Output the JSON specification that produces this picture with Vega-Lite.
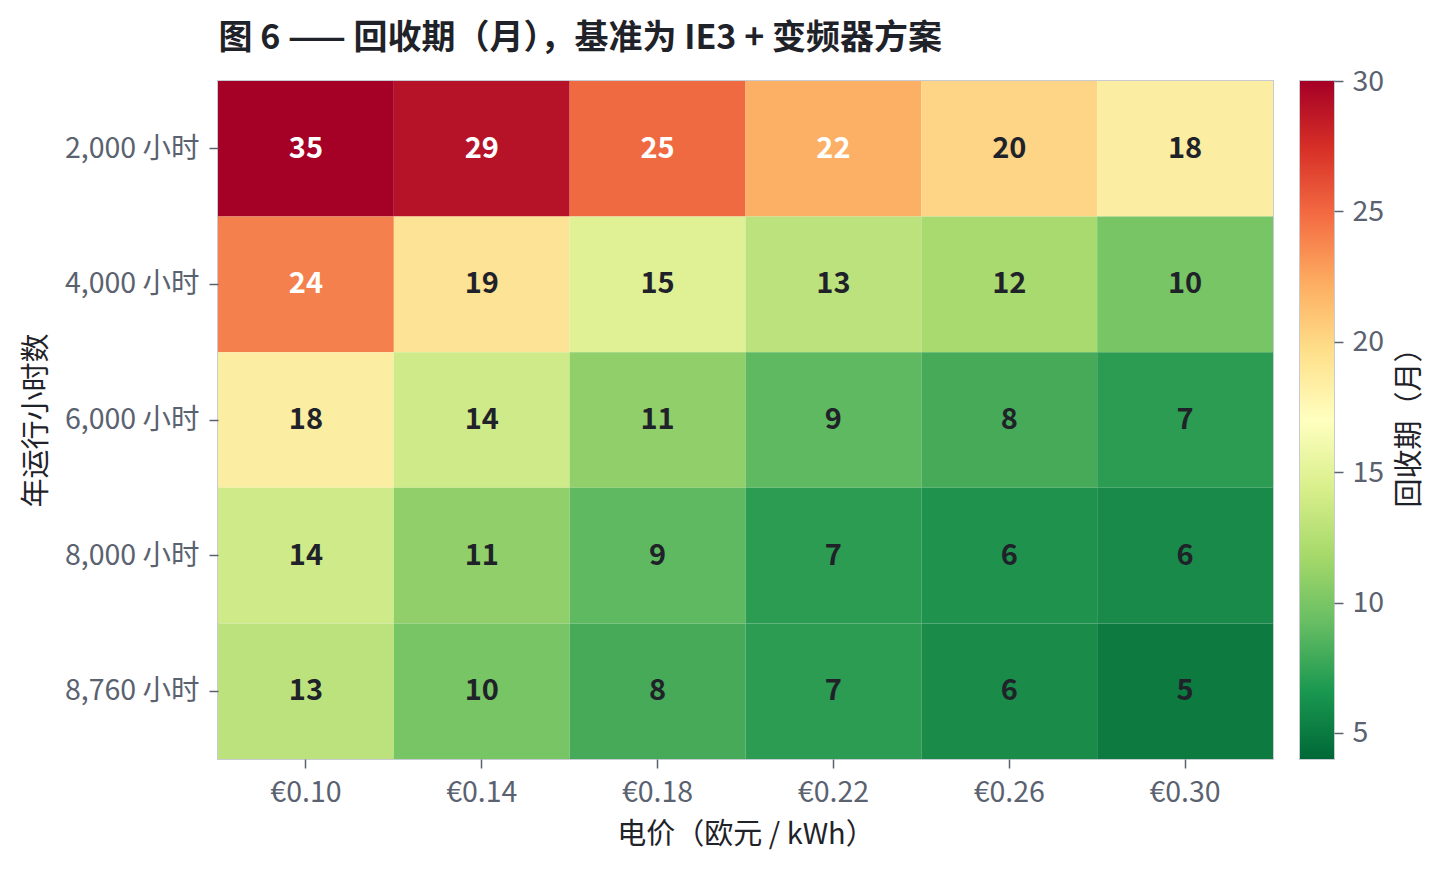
{
  "$schema": "https://vega.github.io/schema/vega-lite/v6.json",
  "autosize": {"type": "pad"},
  "padding": {"left": 21, "top": 22, "right": 0, "bottom": 0},
  "title": {
    "text": "图 6 —— 回收期（月），基准为 IE3 + 变频器方案",
    "anchor": "start",
    "frame": "bounds",
    "font": "Noto Sans CJK SC",
    "fontSize": 34,
    "fontWeight": "bold",
    "color": "#1f2329",
    "offset": 10,
    "dx": 197
  },
  "spacing": 25,
  "hconcat": [
    {
      "width": 1055,
      "height": 678,
      "data": {
        "values": [
          {"hours": "2,000 小时", "price": "€0.10", "months": 35},
          {"hours": "2,000 小时", "price": "€0.14", "months": 29},
          {"hours": "2,000 小时", "price": "€0.18", "months": 25},
          {"hours": "2,000 小时", "price": "€0.22", "months": 22},
          {"hours": "2,000 小时", "price": "€0.26", "months": 20},
          {"hours": "2,000 小时", "price": "€0.30", "months": 18},
          {"hours": "4,000 小时", "price": "€0.10", "months": 24},
          {"hours": "4,000 小时", "price": "€0.14", "months": 19},
          {"hours": "4,000 小时", "price": "€0.18", "months": 15},
          {"hours": "4,000 小时", "price": "€0.22", "months": 13},
          {"hours": "4,000 小时", "price": "€0.26", "months": 12},
          {"hours": "4,000 小时", "price": "€0.30", "months": 10},
          {"hours": "6,000 小时", "price": "€0.10", "months": 18},
          {"hours": "6,000 小时", "price": "€0.14", "months": 14},
          {"hours": "6,000 小时", "price": "€0.18", "months": 11},
          {"hours": "6,000 小时", "price": "€0.22", "months": 9},
          {"hours": "6,000 小时", "price": "€0.26", "months": 8},
          {"hours": "6,000 小时", "price": "€0.30", "months": 7},
          {"hours": "8,000 小时", "price": "€0.10", "months": 14},
          {"hours": "8,000 小时", "price": "€0.14", "months": 11},
          {"hours": "8,000 小时", "price": "€0.18", "months": 9},
          {"hours": "8,000 小时", "price": "€0.22", "months": 7},
          {"hours": "8,000 小时", "price": "€0.26", "months": 6.4},
          {"hours": "8,000 小时", "price": "€0.30", "months": 5.9},
          {"hours": "8,760 小时", "price": "€0.10", "months": 13},
          {"hours": "8,760 小时", "price": "€0.14", "months": 10},
          {"hours": "8,760 小时", "price": "€0.18", "months": 8},
          {"hours": "8,760 小时", "price": "€0.22", "months": 7},
          {"hours": "8,760 小时", "price": "€0.26", "months": 6},
          {"hours": "8,760 小时", "price": "€0.30", "months": 5}
        ]
      },
      "encoding": {
        "x": {
          "field": "price",
          "type": "nominal",
          "sort": null,
          "title": "电价（欧元 / kWh）",
          "scale": {"paddingInner": 0, "paddingOuter": 0},
          "axis": {"labelAngle": 0, "labelPadding": 10, "titlePadding": 14}
        },
        "y": {
          "field": "hours",
          "type": "nominal",
          "sort": null,
          "title": "年运行小时数",
          "scale": {"paddingInner": 0, "paddingOuter": 0},
          "axis": {"labelPadding": 10, "titlePadding": 13}
        }
      },
      "layer": [
        {
          "mark": {"type": "rect"},
          "encoding": {
            "color": {
              "field": "months",
              "type": "quantitative",
              "scale": {"scheme": "redyellowgreen", "reverse": true, "domain": [4, 30], "clamp": true},
              "legend": null
            }
          }
        },
        {
          "mark": {"type": "text", "font": "Noto Sans CJK SC", "fontSize": 29, "fontWeight": "bold"},
          "encoding": {
            "text": {"field": "months", "type": "quantitative", "format": ".0f"},
            "color": {
              "condition": {"test": "datum.months > 21", "value": "#ffffff"},
              "value": "#1f2329"
            }
          }
        }
      ]
    },
    {
      "width": 34,
      "height": 678,
      "data": {"values": [{"low": 4, "high": 30}]},
      "mark": {
        "type": "rect",
        "color": {
          "gradient": "linear",
          "x1": 0, "y1": 1, "x2": 0, "y2": 0,
          "stops": [
            {"offset": 0.0, "color": "#006837"},
            {"offset": 0.1, "color": "#1a9850"},
            {"offset": 0.2, "color": "#66bd63"},
            {"offset": 0.3, "color": "#a6d96a"},
            {"offset": 0.4, "color": "#d9ef8b"},
            {"offset": 0.5, "color": "#ffffbf"},
            {"offset": 0.6, "color": "#fee08b"},
            {"offset": 0.7, "color": "#fdae61"},
            {"offset": 0.8, "color": "#f46d43"},
            {"offset": 0.9, "color": "#d73027"},
            {"offset": 1.0, "color": "#a50026"}
          ]
        }
      },
      "encoding": {
        "y": {
          "field": "low",
          "type": "quantitative",
          "scale": {"domain": [4, 30], "nice": false, "zero": false},
          "title": "回收期（月）",
          "axis": {
            "orient": "right",
            "values": [5, 10, 15, 20, 25, 30],
            "tickSize": 9,
            "labelPadding": 9,
            "titleAngle": 270,
            "titleBaseline": "top",
            "titlePadding": 12
          }
        },
        "y2": {"field": "high"}
      }
    }
  ],
  "config": {
    "view": {"stroke": "#c8ccd2", "strokeWidth": 2},
    "axis": {
      "labelFont": "Noto Sans CJK SC",
      "labelFontSize": 28.5,
      "labelColor": "#5a6270",
      "titleFont": "Noto Sans CJK SC",
      "titleFontSize": 29,
      "titleFontWeight": "normal",
      "titleColor": "#1f2329",
      "domain": false,
      "tickColor": "#5a6270",
      "tickSize": 9,
      "tickWidth": 1.5,
      "grid": false
    }
  }
}
